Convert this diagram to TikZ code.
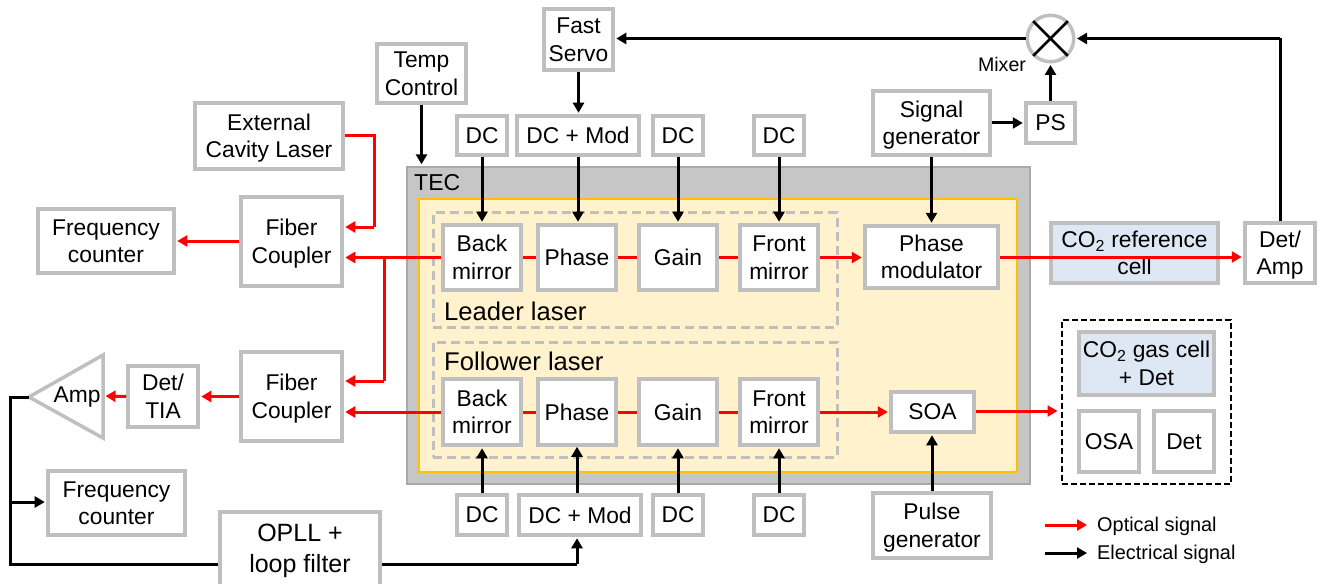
\documentclass[tikz,border=0pt]{standalone}
\usepackage{fontspec}
\setmainfont{Liberation Sans}
\usetikzlibrary{arrows.meta,calc}
\definecolor{boxgray}{HTML}{BFBFBF}
\definecolor{tecgray}{HTML}{C6C6C6}
\definecolor{tecedge}{HTML}{A9A9A9}
\definecolor{cream}{HTML}{FFF2CC}
\definecolor{amberline}{HTML}{FFC000}
\definecolor{cellblue}{HTML}{DEE8F4}
\newcommand\bx[7][]{%
  \pgfmathsetmacro\ccx{(#3+#5)/2}%
  \pgfmathsetmacro\ccy{(#4+#6)/2}%
  \pgfmathsetmacro\wwd{#5-#3-2}%
  \pgfmathsetmacro\hht{#6-#4-2}%
  \node[box,minimum width=\wwd bp,minimum height=\hht bp,#1] (#2) at (\ccx,\ccy) {#7};}
\newcommand\tw[2][2.7]{\raisebox{-#1bp}[\height][\depth]{\begin{tabular}{@{}c@{}}#2\end{tabular}}}
\tikzset{
  box/.style={draw=boxgray,fill=white,line width=3.5bp,inner sep=0pt,align=center,
    font=\fontsize{22.8bp}{27.5bp}\selectfont,text=black},
  region/.style={draw=boxgray,line width=3bp,dash pattern=on 9bp off 5bp,inner sep=0pt},
  lab/.style={inner sep=0pt,anchor=west,text=black},
  opt/.style={draw=red,line width=3bp,-{Triangle[length=10bp,width=11bp]},shorten >=1.5bp},
  optline/.style={draw=red,line width=3bp},
  ele/.style={draw=black,line width=3bp,-{Triangle[length=10bp,width=11bp]},shorten >=1.5bp},
  eleline/.style={draw=black,line width=3bp},
}
\begin{document}
\begin{tikzpicture}[x=1bp,y=-1bp]
\useasboundingbox (0,0) rectangle (1322,584);
% housings
\bx[draw=tecedge,fill=tecgray,line width=2.4bp]{tec}{406}{166}{1031}{485}{}
\bx[draw=amberline,fill=cream,line width=2.4bp]{chip}{418}{198}{1018}{473}{}
\bx[region,draw=boxgray,fill=none]{leader}{432}{212}{838}{328}{}
\bx[region,draw=boxgray,fill=none]{follower}{432}{341}{838}{458}{}
\node[lab,font=\fontsize{23bp}{27bp}\selectfont] (teclab) at (414,183) {TEC};
\node[lab,font=\fontsize{25.6bp}{30bp}\selectfont] (leadlab) at (444,311) {Leader laser};
\node[lab,font=\fontsize{25.6bp}{30bp}\selectfont] (follab) at (444,361) {Follower laser};
% boxes
\bx{ecl}{194}{102}{344}{170}{\tw{External\\Cavity Laser}}
\bx{temp}{376}{43}{467}{104}{\tw{Temp\\Control}}
\bx{servo}{543}{8}{614}{71}{\tw{Fast\\Servo}}
\bx{siggen}{872}{90}{991}{156}{\tw{Signal\\generator}}
\bx{ps}{1025}{102}{1076}{144}{PS}
\bx{dcA}{456}{115}{508}{156}{DC}
\bx{modA}{516}{115}{640}{156}{DC + Mod}
\bx{dcB}{652}{115}{704}{156}{DC}
\bx{dcC}{753}{115}{805}{156}{DC}
\bx{backA}{442}{224}{522}{291}{\tw{Back\\mirror}}
\bx{phaseA}{537}{224}{617}{291}{Phase}
\bx{gainA}{638}{224}{718}{291}{Gain}
\bx{frontA}{739}{224}{819}{291}{\tw{Front\\mirror}}
\bx{pm}{864}{225}{999}{289}{\tw{Phase\\modulator}}
\bx{backB}{442}{378}{522}{446}{\tw{Back\\mirror}}
\bx{phaseB}{537}{378}{617}{446}{Phase}
\bx{gainB}{638}{378}{718}{446}{Gain}
\bx{frontB}{739}{378}{819}{446}{\tw{Front\\mirror}}
\bx{soa}{890}{391}{975}{433}{SOA}
\bx{dcD}{456}{494}{508}{536}{DC}
\bx{modB}{518}{494}{642}{536}{DC + Mod}
\bx{dcE}{652}{494}{704}{536}{DC}
\bx{dcF}{753}{494}{805}{536}{DC}
\bx{pulse}{872}{492}{992}{559}{\tw{Pulse\\generator}}
\bx[fill=cellblue]{refcell}{1050}{222}{1219}{284}{\tw{CO\textsubscript{2} reference\\cell}}
\bx{detamp}{1244}{222}{1316}{284}{\tw{Det/\\Amp}}
\bx[draw=black,fill=none,line width=2.8bp,dash pattern=on 6bp off 3bp]{output}{1061}{319}{1232}{485}{}
\bx[fill=cellblue]{gascell}{1078}{331}{1215}{396}{\tw{CO\textsubscript{2} gas cell\\+ Det}}
\bx{osa}{1078}{410}{1140}{473}{OSA}
\bx{det}{1153}{410}{1215}{473}{Det}
\bx{fcA}{240}{196}{343}{287}{\tw{Fiber\\Coupler}}
\bx{fcB}{240}{351}{343}{442}{\tw{Fiber\\Coupler}}
\bx{fqA}{37}{208}{175}{274}{\tw{Frequency\\counter}}
\bx{tia}{127}{365}{199}{428}{\tw{Det/\\TIA}}
\bx{fqB}{47}{470}{186}{536}{\tw{Frequency\\counter}}
\bx[font=\fontsize{25bp}{31bp}\selectfont]{opll}{219}{511}{381}{588}{\tw[1.5]{OPLL +\\loop filter}}
% amplifier
\coordinate (amptip) at (29,397);
\coordinate (amptop) at (103,355);
\coordinate (ampbot) at (103,438);
\coordinate (ampin) at (104,396);
\draw[boxgray,line width=3.5bp,miter limit=10] (amptip) -- (amptop) -- (ampbot) -- cycle;
\node[inner sep=0pt,font=\fontsize{22.8bp}{27bp}\selectfont] (amp) at (77,397) {Amp};
% mixer
\node[draw=boxgray,fill=white,circle,line width=3.5bp,minimum size=46.5bp,inner sep=0pt] (mix) at (1050.5,38.5) {};
\draw[eleline,line width=2.8bp,shorten <=.5bp,shorten >=.5bp] (mix.45) -- (mix.225);
\draw[eleline,line width=2.8bp,shorten <=.5bp,shorten >=.5bp] (mix.135) -- (mix.315);
\node[inner sep=0pt,font=\fontsize{19.6bp}{23bp}\selectfont] (mixlab) at (1002,64) {Mixer};
% optical paths
\draw[optline] (ecl.east |- 0,136) -| (374,227) coordinate (eclturn);
\draw[opt] (eclturn) -- (eclturn -| fcA.east);
\draw[opt] (backA.west) -- (backA.west -| fcA.east);
\coordinate (branch) at (384,257);
\draw[optline] (branch) -- (branch |- 0,381) coordinate (brturn);
\draw[opt] (brturn) -- (brturn -| fcB.east);
\draw[opt] (backB.west) -- (backB.west -| fcB.east);
\draw[optline] (backA) -- (phaseA);
\draw[optline] (phaseA) -- (gainA);
\draw[optline] (gainA) -- (frontA);
\draw[opt] (frontA.east) -- (frontA.east -| pm.west);
\draw[optline] (backB) -- (phaseB);
\draw[optline] (phaseB) -- (gainB);
\draw[optline] (gainB) -- (frontB);
\draw[opt] (frontB.east) -- (frontB.east -| soa.west);
\draw[opt] (pm.east) -- (pm.east -| detamp.west);
\coordinate (outin) at (1059,411);
\draw[opt] (soa.east |- outin) -- (outin);
\coordinate (fqAy) at (0,241);
\draw[opt] (fcA.west |- fqAy) -- (fqA.east |- fqAy);
\draw[opt] (fcB.west |- tia.east) -- (tia.east);
\draw[opt] (tia.west) -- (ampin);
% electrical paths
\draw[ele] (temp.south) -- (temp.south |- tec.north);
\draw[ele] (servo.south) -- (servo.south |- modA.north);
\draw[ele] (dcA.south) -- (dcA.south |- backA.north);
\draw[ele] (modA.south) -- (modA.south |- phaseA.north);
\draw[ele] (dcB.south) -- (dcB.south |- gainA.north);
\draw[ele] (dcC.south) -- (dcC.south |- frontA.north);
\draw[ele] (siggen.south) -- (siggen.south |- pm.north);
\draw[ele] (dcD.north) -- (dcD.north |- backB.south);
\draw[ele] (modB.north) ++(-3,0) -- ++(0,-48);
\draw[ele] (dcE.north) -- (dcE.north |- gainB.south);
\draw[ele] (dcF.north) -- (dcF.north |- frontB.south);
\draw[ele] (pulse.north) -- (pulse.north |- soa.south);
\draw[ele] (siggen.east |- ps.west) -- (ps.west);
\draw[ele] (ps.north) -- (mix.south);
\draw[ele] (mix.west) -- (servo.east |- mix.west);
\draw[eleline] (detamp.north) -- (detamp.north |- mix.east) coordinate (retn);
\draw[ele] (retn) -- (mix.east);
\coordinate (rail) at (10,397);
\coordinate (railbot) at (10,564);
\coordinate (railmid) at (10,502);
\draw[eleline,line join=miter] (amptip) -- (rail) -- (railbot) -- (railbot -| opll.west);
\draw[ele] (railmid) -- (railmid -| fqB.west);
\coordinate (mfb) at (577,564);
\draw[eleline] (railbot -| opll.east) -- (mfb);
\draw[ele] (mfb) -- (mfb |- modB.south);
% legend
\coordinate (lgA) at (1045,525);
\coordinate (lgAe) at (1087,525);
\coordinate (lgB) at (1045,553);
\coordinate (lgBe) at (1087,553);
\draw[opt,shorten >=0pt] (lgA) -- (lgAe);
\draw[ele,shorten >=0pt] (lgB) -- (lgBe);
\node[lab,font=\fontsize{19.9bp}{24bp}\selectfont] (lgtA) at (1097,526.5) {Optical signal};
\node[lab,font=\fontsize{19.9bp}{24bp}\selectfont] (lgtB) at (1097,554.5) {Electrical signal};
\end{tikzpicture}
\end{document}
